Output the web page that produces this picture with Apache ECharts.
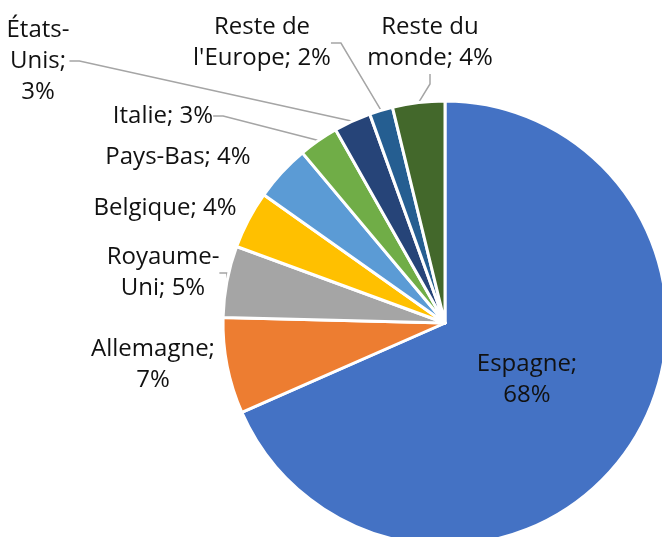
<!DOCTYPE html>
<html>
<head>
<meta charset="utf-8">
<script src="https://cdn.jsdelivr.net/npm/echarts@6/dist/echarts.min.js"></script>
<style>
  html, body { margin: 0; padding: 0; background: #fff; }
  #chart { width: 662px; height: 537px; }
</style>
</head>
<body>
<div id="chart"></div>
<script>
// pays de destination, dans l'ordre du camembert (sens horaire depuis midi)
const countries = ['Espagne', 'Allemagne', 'Royaume-Uni', 'Belgique', 'Pays-Bas', 'Italie', 'États-Unis', "Reste de l'Europe", 'Reste du monde'];
const shares = [68.4, 7.0, 5.2, 4.2, 4.1, 2.9, 2.7, 1.7, 3.8];
const colors = ['#4472C4', '#ED7D31', '#A5A5A5', '#FFC000', '#5B9BD5', '#70AD47', '#264478', '#255E91', '#43682B'];

// position des étiquettes (centre x, centre y), placées à la main comme dans Excel
const labelPos = [
  [527, 380], [153, 365], [163, 273], [165, 208], [178, 157],
  [163, 116], [38, 61], [262, 43], [430, 43]
];
// étiquettes reliées au secteur par un trait
const withLine = [false, false, true, false, false, true, true, true, true];

const chart = echarts.init(document.getElementById('chart'));

function labelText (p) {
  const pct = Math.round(p.percent) + '%';
  switch (p.dataIndex) {
    case 0:
    case 1: return p.name + ';\n' + pct;
    case 2: return 'Royaume-\nUni; ' + pct;
    case 6: return 'États-\nUnis;\n' + pct;
    case 7: return "Reste de\nl'Europe; " + pct;
    case 8: return 'Reste du\nmonde; ' + pct;
    default: return p.name + '; ' + pct;
  }
}

const option = {
  animation: false,
  color: colors,
  series: [{
    type: 'pie',
    center: [445, 323],
    radius: 222,
    startAngle: 90,
    clockwise: true,
    avoidLabelOverlap: false,
    itemStyle: { borderColor: '#fff', borderWidth: 3 },
    label: {
      show: true,
      position: 'outside',
      formatter: labelText,
      color: '#111',
      fontFamily: 'Open Sans',
      fontSize: 24,
      lineHeight: 31,
      align: 'center'
    },
    labelLine: {
      show: true,
      length: 10,
      length2: 10,
      lineStyle: { color: '#A5A5A5', width: 1.5 }
    },
    labelLayout: function (params) {
      const pos = labelPos[params.dataIndex];
      return {
        x: pos[0],
        y: pos[1],
        align: 'center',
        verticalAlign: 'middle',
        hideOverlap: false
      };
    },
    data: countries.map(function (name, i) {
      return { name: name, value: shares[i], labelLine: { show: withLine[i] } };
    })
  }]
};

chart.setOption(option);
</script>
</body>
</html>
